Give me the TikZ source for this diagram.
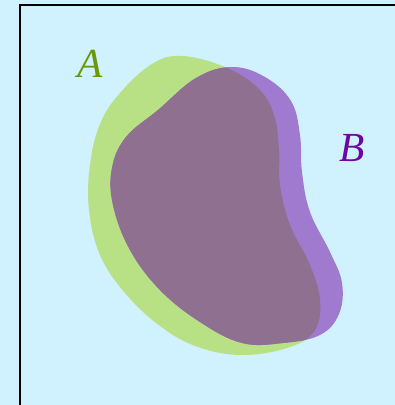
\documentclass[tikz,border=0pt]{standalone}
\usepackage{fontspec}
\setmainfont{Liberation Serif}
\definecolor{bgcyan}{RGB}{208,242,254}
\definecolor{setA}{RGB}{184,224,132}
\definecolor{setB}{RGB}{160,122,207}
\definecolor{setAB}{RGB}{144,112,144}
\definecolor{labA}{RGB}{108,150,12}
\definecolor{labB}{RGB}{108,8,160}
\tikzset{
  setlabel/.style={font=\fontsize{31}{31}\selectfont\itshape, inner sep=0pt},
}
\begin{document}
\begin{tikzpicture}[x=0.75pt,y=-0.75pt]
\useasboundingbox (0,0) rectangle (395,405);
\fill[bgcyan] (0,0) rectangle (395,405);
\draw[black, line width=1.4pt] (20,420) -- (20,5) -- (410,5);
% set A
\fill[setA] plot[smooth cycle, tension=0.65] coordinates {
 (182,56) (225,67) (258,88) (274,115) (279,150) (280,185) (290,225)
 (310,265) (320,300) (315,330) (290,347) (243,355) (198,347) (160,326)
 (125,293) (100,255) (89,210) (90,165) (100,124) (120,93) (152,64)};
% set B
\fill[setB] plot[smooth cycle, tension=0.65] coordinates {
 (232,67) (265,77) (291,101) (300,135) (302,172) (310,212) (330,252)
 (342,283) (339,314) (320,335) (283,343) (242,343) (200,322) (160,290)
 (130,250) (113,205) (112,168) (126,137) (158,110) (196,78)};
% overlap
\begin{scope}
\clip plot[smooth cycle, tension=0.65] coordinates {
 (182,56) (225,67) (258,88) (274,115) (279,150) (280,185) (290,225)
 (310,265) (320,300) (315,330) (290,347) (243,355) (198,347) (160,326)
 (125,293) (100,255) (89,210) (90,165) (100,124) (120,93) (152,64)};
\fill[setAB] plot[smooth cycle, tension=0.65] coordinates {
 (232,67) (265,77) (291,101) (300,135) (302,172) (310,212) (330,252)
 (342,283) (339,314) (320,335) (283,343) (242,343) (200,322) (160,290)
 (130,250) (113,205) (112,168) (126,137) (158,110) (196,78)};
\end{scope}
\node[setlabel, text=labA] (A) at (90,64) {A};
\node[setlabel, text=labB] (B) at (352,148) {B};
\end{tikzpicture}
\end{document}
